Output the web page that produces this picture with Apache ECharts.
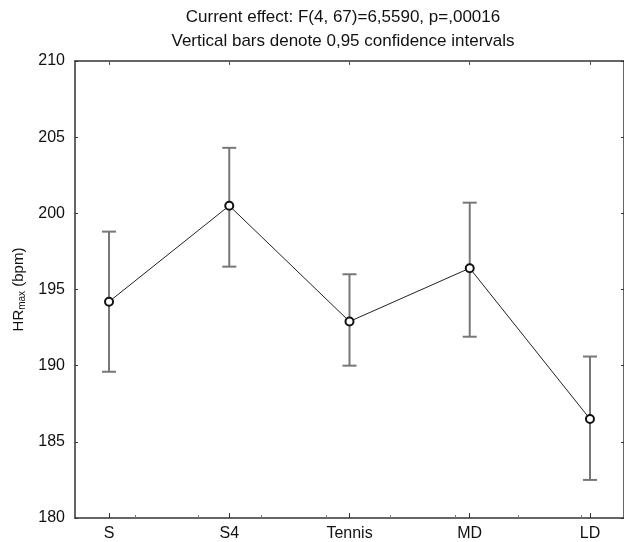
<!DOCTYPE html>
<html>
<head>
<meta charset="utf-8">
<script src="https://cdn.jsdelivr.net/npm/echarts@6/dist/echarts.min.js"></script>
<style>
  html, body { margin: 0; padding: 0; background: #fff; }
  #chart { width: 624px; height: 542px; }
</style>
</head>
<body>
<div id="chart"></div>
<script>
const categories = ['S', 'S4', 'Tennis', 'MD', 'LD'];
const means = [194.2, 200.5, 192.9, 196.4, 186.5];
const lower = [189.6, 196.5, 190.0, 191.9, 182.5];
const upper = [198.8, 204.3, 196.0, 200.7, 190.6];
const minorXTicks = [0.22, 0.74, 1.27, 1.81, 2.34, 2.88, 3.4, 3.93];

const catIdx = categories.map((c, i) => i);
const fontFamily = '"Liberation Sans", Arial, sans-serif';

const chart = echarts.init(document.getElementById('chart'));

const axisLine = { show: true, onZero: false, lineStyle: { color: '#333', width: 1.5 } };

const option = {
    backgroundColor: '#fff',
    animation: false,
    title: {
        text: 'Current effect: F(4, 67)=6,5590, p=,00016\nVertical bars denote 0,95 confidence intervals',
        left: 343,
        top: 5,
        padding: 0,
        textAlign: 'center',
        textStyle: {
            fontFamily: fontFamily,
            fontSize: 17,
            fontWeight: 'normal',
            color: '#111',
            lineHeight: 24
        }
    },
    grid: {
        left: 75,
        right: -1,
        top: 61,
        bottom: 23
    },
    xAxis: [
        {
            type: 'value',
            position: 'bottom',
            min: -0.283,
            max: 4.283,
            axisLine: axisLine,
            axisTick: { show: true, inside: true, length: 5, customValues: catIdx, lineStyle: { color: '#333' } },
            axisLabel: {
                customValues: catIdx,
                formatter: v => categories[Math.round(v)],
                fontFamily: fontFamily,
                fontSize: 16,
                color: '#111',
                margin: 8
            },
            splitLine: { show: false }
        },
        {
            type: 'value',
            position: 'top',
            min: -0.283,
            max: 4.283,
            axisLine: axisLine,
            axisTick: { show: true, inside: true, length: 4, customValues: catIdx, lineStyle: { color: '#555' } },
            axisLabel: { show: false },
            splitLine: { show: false }
        },
        {
            type: 'value',
            position: 'bottom',
            min: -0.283,
            max: 4.283,
            axisLine: { show: false, onZero: false },
            axisTick: { show: true, inside: true, length: 3, customValues: minorXTicks, lineStyle: { color: '#777' } },
            axisLabel: { show: false },
            splitLine: { show: false }
        }
    ],
    yAxis: [
        {
            type: 'value',
            min: 180,
            max: 210,
            interval: 5,
            name: '{n|HR}{s|max}{n| (bpm)}',
            nameLocation: 'middle',
            nameGap: 47,
            nameTextStyle: {
                rich: {
                    n: { fontFamily: fontFamily, fontSize: 15, color: '#111' },
                    s: { fontFamily: fontFamily, fontSize: 10, color: '#111', padding: [8, 0, 0, 0] }
                }
            },
            axisLine: axisLine,
            axisTick: { show: true, inside: true, length: 3, lineStyle: { color: '#333' } },
            axisLabel: {
                fontFamily: fontFamily,
                fontSize: 16,
                color: '#111',
                margin: 10
            },
            splitLine: { show: false }
        },
        {
            type: 'value',
            position: 'right',
            min: 180,
            max: 210,
            interval: 5,
            axisLine: axisLine,
            axisTick: { show: true, inside: true, length: 3, lineStyle: { color: '#333' } },
            axisLabel: { show: false },
            splitLine: { show: false }
        }
    ],
    series: [
        {
            type: 'custom',
            name: 'ci',
            xAxisIndex: 0,
            yAxisIndex: 0,
            data: catIdx.map(i => [i, lower[i], upper[i]]),
            renderItem: (params, api) => {
                const lo = api.coord([api.value(0), api.value(1)]);
                const hi = api.coord([api.value(0), api.value(2)]);
                const cap = 7;
                const style = { stroke: '#777', lineWidth: 2 };
                return {
                    type: 'group',
                    children: [
                        { type: 'line', shape: { x1: lo[0], y1: lo[1], x2: hi[0], y2: hi[1] }, style: style },
                        { type: 'line', shape: { x1: lo[0] - cap, y1: lo[1], x2: lo[0] + cap, y2: lo[1] }, style: style },
                        { type: 'line', shape: { x1: hi[0] - cap, y1: hi[1], x2: hi[0] + cap, y2: hi[1] }, style: style }
                    ]
                };
            },
            z: 1
        },
        {
            type: 'line',
            name: 'mean',
            xAxisIndex: 0,
            yAxisIndex: 0,
            data: catIdx.map(i => [i, means[i]]),
            symbol: 'circle',
            symbolSize: 8,
            showSymbol: true,
            lineStyle: { color: '#222', width: 1 },
            itemStyle: { color: '#fff', borderColor: '#111', borderWidth: 2 },
            z: 3
        }
    ]
};

chart.setOption(option);
</script>
</body>
</html>
